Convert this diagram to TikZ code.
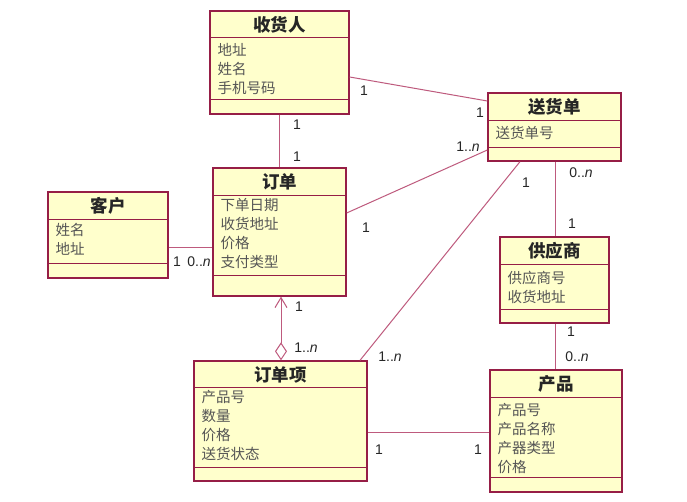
\documentclass[tikz,border=0pt]{standalone}
\usepackage{fontspec}
\setmainfont{Liberation Sans}
\newfontfamily\cjk{Noto Sans CJK SC}
\usetikzlibrary{arrows.meta,fit}
\definecolor{boxfill}{RGB}{255,255,204}
\definecolor{boxline}{RGB}{150,30,70}
\definecolor{conn}{RGB}{190,90,125}
\definecolor{attrcol}{RGB}{85,85,85}
\tikzset{
 clsbox/.style={draw=boxline, fill=boxfill, line width=1.3pt, inner sep=0pt, rectangle},
 divline/.style={draw=boxline, line width=0.9pt},
 titletext/.style={font=\cjk\bfseries\fontsize{17.5}{20}\selectfont, text=black!85, inner sep=0pt},
 attrtext/.style={font=\cjk\fontsize{14.5}{17}\selectfont, text=attrcol, inner sep=0pt},
 mult/.style={font=\fontsize{14}{16}\selectfont, text=black!85, inner sep=0pt},
 assoc/.style={draw=conn, line width=1pt},
}
\def\aoff{12}
\newcommand\umlcls[9]{%
 \node[clsbox, fit={(#2,#3) (#4,#5)}] (#1) {};
 \draw[divline] (#2,#6) -- (#4,#6) (#2,#7) -- (#4,#7);
 \node[titletext] (#1-t) at ({(#2+#4)/2},{(#3+#6)/2+0.5}) {#8};
 \foreach \a [count=\i] in {#9} \node[attrtext, anchor=base west] (#1-a\i) at ({#2+7.5},{#6+\aoff+5.5+19*(\i-1)}) {\a};
}
\begin{document}
\begin{tikzpicture}[x=1pt,y=-1pt]
\fill[white] (0,0) rectangle (687,502);
\useasboundingbox (0,0) rectangle (687,502);
\def\aoff{13}
\umlcls{shr}{210}{11}{349}{114}{37}{99}{收货人}{地址,姓名,手机号码}
\umlcls{shd}{488}{93}{621}{161}{120}{147}{送货单}{送货单号}
\def\aoff{11}
\umlcls{kh}{48}{192}{168}{278}{219}{263}{客户}{姓名,地址}
\def\aoff{10}
\umlcls{dd}{213}{168}{346}{296}{195}{275}{订单}{下单日期,收货地址,价格,支付类型}
\umlcls{ddx}{194}{361}{367}{481}{387}{467}{订单项}{产品号,数量,价格,送货状态}
\def\aoff{14}
\umlcls{gys}{500}{237}{609}{323}{264}{309}{供应商}{供应商号,收货地址}
\def\aoff{13}
\umlcls{cp}{490}{370}{622}{492}{397}{477}{产品}{产品号,产品名称,产器类型,价格}

\draw[assoc] (shr.south) -- (dd.north);
\draw[assoc] (shr.east |- 0,77) -- (shd.west |- 0,101);
\draw[assoc] (dd.east |- 0,213) -- (shd.west |- 0,150);
\draw[assoc] (kh.east |- 0,248) -- (dd.west |- 0,248);
\draw[assoc, {Diamond[open,length=18pt,width=12pt]}-{Straight Barb[length=10pt,width=12pt]}] (ddx.north -| 281,0) -- (dd.south -| 281,0);
\draw[assoc] (ddx.north -| 360,0) -- (shd.south -| 520,0);
\draw[assoc] (shd.south -| 555,0) -- (gys.north -| 555,0);
\draw[assoc] (gys.south -| 555,0) -- (cp.north -| 555,0);
\draw[assoc] (ddx.east |- 0,432) -- (cp.west |- 0,432);

\node[mult] (m1) at (297,125) {1};
\node[mult] (m2) at (297,157) {1};
\node[mult] (m3) at (364,91) {1};
\node[mult] (m4) at (480,113) {1};
\node[mult] (m5) at (468,147) {1..\textit{n}};
\node[mult] (m6) at (366,228) {1};
\node[mult] (m7) at (526,183) {1};
\node[mult] (m8) at (581,173) {0..\textit{n}};
\node[mult] (m9) at (572,224) {1};
\node[mult] (m10) at (571,332) {1};
\node[mult] (m11) at (577,357) {0..\textit{n}};
\node[mult] (m12) at (177,262) {1};
\node[mult] (m13) at (199,262) {0..\textit{n}};
\node[mult] (m14) at (299,307) {1};
\node[mult] (m15) at (306,348) {1..\textit{n}};
\node[mult] (m16) at (390,357) {1..\textit{n}};
\node[mult] (m17) at (379,450) {1};
\node[mult] (m18) at (478,450) {1};
\end{tikzpicture}
\end{document}
